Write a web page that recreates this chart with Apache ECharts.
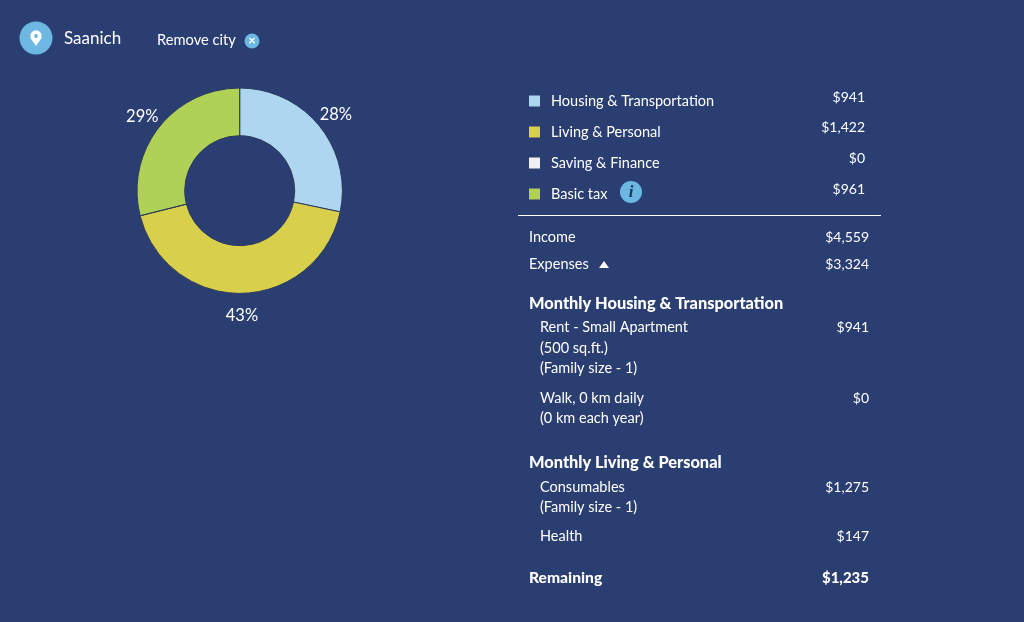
<!DOCTYPE html>
<html>
<head>
<meta charset="utf-8">
<style>
  html, body { margin: 0; padding: 0; background: #2a3e72; }
  #chart { width: 1024px; height: 622px; }
</style>
</head>
<body>
<div id="chart"></div>
<script src="https://cdn.jsdelivr.net/npm/echarts@6/dist/echarts.min.js"></script>
<script>
// data
var categories = ['Housing & Transportation', 'Living & Personal', 'Saving & Finance', 'Basic tax'];
var values = [941, 1422, 0, 961];
var colors = ['#aed6f1', '#d8cf4a', '#f0f0f2', '#afd155'];
var valueLabels = ['$941', '$1,422', '$0', '$961'];

var summaryLabels = ['Income', 'Expenses'];
var summaryValues = ['$4,559', '$3,324'];

var housingLines = ['Rent - Small Apartment', '(500 sq.ft.)', '(Family size - 1)', 'Walk, 0 km daily', '(0 km each year)'];
var housingValues = ['$941', '', '', '$0', ''];
var livingLines = ['Consumables', '(Family size - 1)', 'Health'];
var livingValues = ['$1,275', '', '$147'];

var FONT = 'Lato';
var WHITE = '#ffffff';
var BLUE = '#6cb8e2';

// nudges for the pie labels, by slice
var labelShiftX = [-11, -21, 0, 11];
var labelShiftY = [-6, 14, 0, -6];

var chart = echarts.init(document.getElementById('chart'));

function txt(x, y, text, opt) {
    opt = opt || {};
    return {
        type: 'text',
        x: x,
        y: y + 0.8,
        silent: true,
        style: {
            text: text,
            fill: opt.fill || WHITE,
            font: (opt.weight || 'normal') + ' ' + (opt.size || 14.5) + 'px ' + FONT,
            textAlign: opt.align || 'left',
            textVerticalAlign: 'middle'
        }
    };
}

var graphics = [];

// header, pin is a circle on a triangle
graphics.push({ type: 'circle', shape: { cx: 36, cy: 38, r: 16.5 }, style: { fill: BLUE } });
graphics.push({ type: 'polygon', shape: { points: [[30.8, 38.5], [41.2, 38.5], [36, 46]] }, style: { fill: WHITE } });
graphics.push({ type: 'circle', shape: { cx: 36, cy: 36, r: 5.7 }, style: { fill: WHITE } });
graphics.push({ type: 'circle', shape: { cx: 36, cy: 36, r: 1.9 }, style: { fill: BLUE } });
graphics.push(txt(64, 38, 'Saanich', { size: 17 }));
graphics.push(txt(157, 39.5, 'Remove city', { size: 14.7 }));
graphics.push({ type: 'circle', shape: { cx: 252, cy: 41, r: 7.5 }, style: { fill: BLUE } });
graphics.push(txt(252, 40.5, '\u00d7', { size: 13, weight: 'bold', align: 'center' }));

// amounts beside the legend
var legendY = [96.5, 127, 157.5, 188.5];
valueLabels.forEach(function (v, i) {
    graphics.push(txt(865, legendY[i], v, { align: 'right', size: 14 }));
});

// info badge next to Basic tax
graphics.push({ type: 'circle', shape: { cx: 631, cy: 192, r: 11 }, style: { fill: BLUE } });
graphics.push({
    type: 'text', x: 631, y: 193, silent: true,
    style: { text: 'i', fill: '#20335f', font: 'italic bold 17px "Liberation Serif"', textAlign: 'center', textVerticalAlign: 'middle' }
});

// divider
graphics.push({ type: 'line', shape: { x1: 518, y1: 215.5, x2: 881, y2: 215.5 }, style: { stroke: WHITE, lineWidth: 1 } });

// income / expenses
var summaryY = [237, 264];
summaryLabels.forEach(function (s, i) {
    graphics.push(txt(529, summaryY[i], s));
    graphics.push(txt(869, summaryY[i], summaryValues[i], { align: 'right', size: 14 }));
});
graphics.push({
    type: 'polygon',
    shape: { points: [[599, 268], [609, 268], [604, 261]] },
    style: { fill: WHITE }
});

// monthly housing
graphics.push(txt(529, 302.5, 'Monthly Housing & Transportation', { weight: 900, size: 16.35 }));
var housingY = [327, 348, 368, 398, 418];
housingLines.forEach(function (s, i) {
    graphics.push(txt(540, housingY[i], s));
    if (housingValues[i]) graphics.push(txt(869, housingY[i], housingValues[i], { align: 'right', size: 14 }));
});

// monthly living
graphics.push(txt(529, 461.5, 'Monthly Living & Personal', { weight: 900, size: 16.35 }));
var livingY = [487, 507, 536];
livingLines.forEach(function (s, i) {
    graphics.push(txt(540, livingY[i], s));
    if (livingValues[i]) graphics.push(txt(869, livingY[i], livingValues[i], { align: 'right', size: 14 }));
});

// remaining
graphics.push(txt(529, 577.5, 'Remaining', { weight: 900, size: 15.6 }));
graphics.push(txt(869, 577.5, '$1,235', { weight: 900, align: 'right', size: 15 }));

var total = values.reduce(function (a, b) { return a + b; }, 0);

chart.setOption({
    backgroundColor: '#2a3e72',
    animation: false,
    color: colors,
    legend: {
        orient: 'vertical',
        left: 524,
        top: 87,
        itemWidth: 11,
        itemHeight: 11,
        itemGap: 13,
        icon: 'rect',
        selectedMode: false,
        itemStyle: { borderWidth: 0 },
        textStyle: { color: WHITE, fontFamily: FONT, fontSize: 14.5, padding: [0, 0, 0, 6], lineHeight: 18 },
        data: categories
    },
    series: [{
        type: 'pie',
        center: [239.7, 190.7],
        radius: [55, 102.7],
        startAngle: 90,
        silent: true,
        itemStyle: { borderColor: '#2a3a5e', borderWidth: 1 },
        label: {
            color: WHITE,
            fontFamily: FONT,
            fontSize: 16.5,
            formatter: function (p) {
                return p.value ? Math.round(p.value / total * 100) + '%' : '';
            }
        },
        labelLine: { show: false, length: 8, length2: 0 },
        labelLayout: function (p) {
            return { dx: labelShiftX[p.dataIndex], dy: labelShiftY[p.dataIndex] };
        },
        data: categories.map(function (c, i) {
            return { name: c, value: values[i] };
        })
    }],
    graphic: { elements: graphics }
});
</script>
</body>
</html>
